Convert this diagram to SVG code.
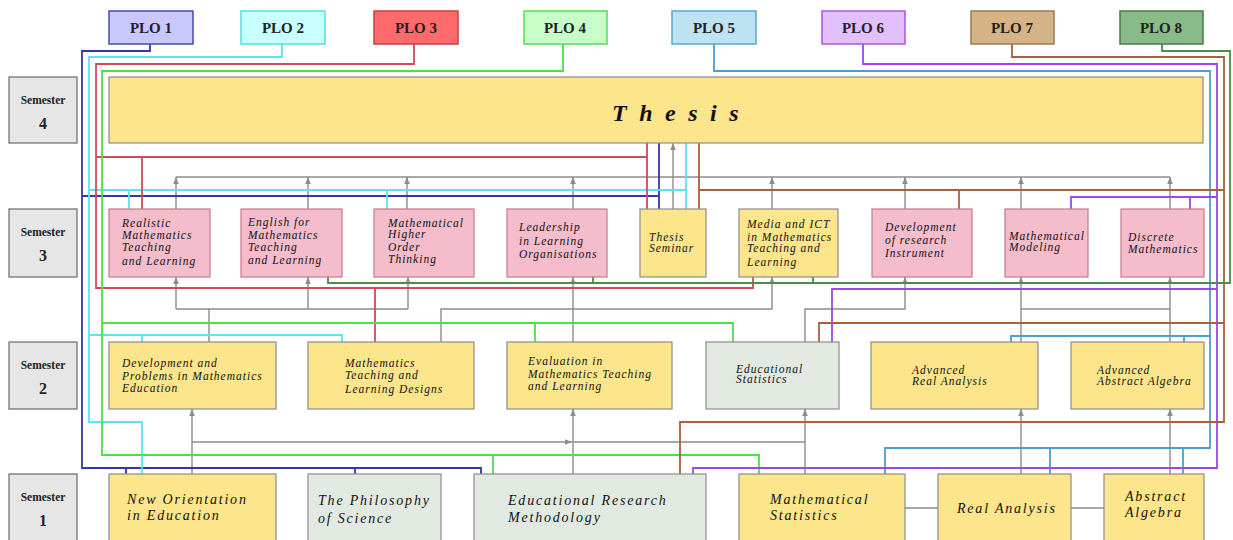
<svg xmlns="http://www.w3.org/2000/svg" width="1233" height="540" viewBox="0 0 1233 540">
<defs>
<style>
.sem{fill:#e6e6e6;stroke:#6a6a6a;stroke-width:1.2}
.semt{font-family:"Liberation Serif","Times New Roman",serif;font-weight:bold;font-size:11.5px;fill:#222;text-anchor:middle}
.semn{font-family:"Liberation Serif","Times New Roman",serif;font-weight:bold;font-size:16px;fill:#222;text-anchor:middle}
.plot{font-family:"Liberation Serif","Times New Roman",serif;font-weight:bold;font-size:15px;fill:#222;text-anchor:middle}
.y{fill:#fce58a;stroke:#8c8c8c;stroke-width:1.2}
.p{fill:#f5bccb;stroke:#c47a8c;stroke-width:1.2}
.g{fill:#e1e9e1;stroke:#8c8c8c;stroke-width:1.2}
.t{font-family:"Liberation Serif","Times New Roman",serif;font-style:italic;font-size:11.5px;letter-spacing:1px;fill:#111}
.t1{font-family:"Liberation Serif","Times New Roman",serif;font-style:italic;font-size:14px;letter-spacing:1.8px;fill:#111}
.gr{fill:none;stroke:#8c8c8c;stroke-width:1.4}
.ga{fill:none;stroke:#8c8c8c;stroke-width:1.4;marker-end:url(#arr)}
.c1{fill:none;stroke:#3636a6;stroke-width:1.8}
.c2{fill:none;stroke:#5ce6ec;stroke-width:1.8}
.c3{fill:none;stroke:#d04a5a;stroke-width:1.8}
.c4{fill:none;stroke:#4ddd4d;stroke-width:1.8}
.c5{fill:none;stroke:#4a9fd0;stroke-width:1.8}
.c6{fill:none;stroke:#9a48e8;stroke-width:1.8}
.c7{fill:none;stroke:#a8603f;stroke-width:1.8}
.c8{fill:none;stroke:#4b8b4b;stroke-width:1.8}
</style>
<marker id="arr" viewBox="0 0 10 10" refX="10" refY="5" markerUnits="userSpaceOnUse" markerWidth="7" markerHeight="7" orient="auto">
<path d="M0,1 L10,5 L0,9 z" fill="#8c8c8c"/>
</marker>
</defs>
<rect width="1233" height="540" fill="#ffffff"/>

<g id="connectors">
<path class="gr" d="M176 177 H1170"/>
<path class="ga" d="M176 209 V177"/>
<path class="ga" d="M308 209 V177"/>
<path class="ga" d="M407 209 V177"/>
<path class="ga" d="M573 209 V177"/>
<path class="ga" d="M772 209 V177"/>
<path class="ga" d="M905 209 V177"/>
<path class="ga" d="M1021 209 V177"/>
<path class="ga" d="M1170 209 V177"/>
<path class="ga" d="M673 209 V143"/>
<path class="gr" d="M209 342 V309 M176 309 H408"/>
<path class="ga" d="M176 309 V277"/>
<path class="ga" d="M308 309 V277"/>
<path class="ga" d="M408 309 V277"/>
<path class="ga" d="M441 342 V309 H772 V277"/>
<path class="ga" d="M573 342 V277"/>
<path class="ga" d="M805 342 V309 H905 V277"/>
<path class="gr" d="M1021 309 H1170"/>
<path class="ga" d="M1021 342 V277"/>
<path class="ga" d="M1170 342 V277"/>
<path class="ga" d="M192 474 V409"/>
<path class="ga" d="M192 442 H572"/>
<path class="gr" d="M573 442 H805"/>
<path class="ga" d="M573 474 V409"/>
<path class="ga" d="M805 474 V409"/>
<path class="ga" d="M1021 474 V409"/>
<path class="ga" d="M1170 474 V409"/>
<path class="gr" d="M905 508 H938 M1071 508 H1104"/>

<path class="c1" d="M150 44 V51 H82 V468 H481 V474 M126 468 V474 M355 468 V474 M82 196 H659 M659 143 V209"/>
<path class="c2" d="M282 44 V57 H89 V422 H142 V474 M89 190 H686 M686 143 V209 M129 190 V209 M387 190 V209 M89 335 H342 V342 M142 335 V342"/>
<path class="c3" d="M414 44 V64 H96 V288 H753 V277 M96 157 H647 M647 143 V209 M142 157 V209 M375 288 V342"/>
<path class="c4" d="M563 44 V71 H102 V455 H759 V474 M493 455 V474 M102 323 H733 V342 M535 323 V342"/>
<path class="c5" d="M714 44 V71 H1210 V448 H885 V474 M1050 448 V474 M1183 448 V474 M1210 336 H1011 V342 M1184 336 V342"/>
<path class="c6" d="M863 44 V64 H1217 V468 H693 V474 M1217 197 H1071 V209 M1190 197 V209 M1217 289 H832 V342"/>
<path class="c7" d="M1012 44 V57 H1224 V422 H680 V474 M1224 190 H699 M699 143 V209 M959 190 V209 M1224 323 H819 V342"/>
<path class="c8" d="M1162 44 V51 H1230 V283 H328 V277 M593 283 V277 M813 283 V277"/>
</g>

<g id="plo1"><rect x="109" y="11" width="84" height="33" fill="#c8c8ff" stroke="#4848b0" stroke-width="1.5"/><text class="plot" x="151" y="33">PLO 1</text></g>
<g id="plo2"><rect x="241" y="11" width="84" height="33" fill="#c8ffff" stroke="#50e0e0" stroke-width="1.5"/><text class="plot" x="283" y="33">PLO 2</text></g>
<g id="plo3"><rect x="374" y="11" width="84" height="33" fill="#ff6b6b" stroke="#c84040" stroke-width="1.5"/><text class="plot" x="416" y="33">PLO 3</text></g>
<g id="plo4"><rect x="524" y="11" width="83" height="33" fill="#c8ffc8" stroke="#55dd55" stroke-width="1.5"/><text class="plot" x="565" y="33">PLO 4</text></g>
<g id="plo5"><rect x="672" y="11" width="84" height="33" fill="#bde3f3" stroke="#55aacc" stroke-width="1.5"/><text class="plot" x="714" y="33">PLO 5</text></g>
<g id="plo6"><rect x="822" y="11" width="83" height="33" fill="#e2c0ff" stroke="#aa55dd" stroke-width="1.5"/><text class="plot" x="863" y="33">PLO 6</text></g>
<g id="plo7"><rect x="971" y="11" width="83" height="33" fill="#d4b486" stroke="#9a7a55" stroke-width="1.5"/><text class="plot" x="1012" y="33">PLO 7</text></g>
<g id="plo8"><rect x="1120" y="11" width="83" height="33" fill="#88bb88" stroke="#4a7a4a" stroke-width="1.5"/><text class="plot" x="1161" y="33">PLO 8</text></g>

<g id="sem4"><rect class="sem" x="9" y="77" width="68" height="66"/><text class="semt" x="43" y="104">Semester</text><text class="semn" x="43" y="129">4</text></g>
<g id="sem3"><rect class="sem" x="9" y="209" width="68" height="68"/><text class="semt" x="43" y="236">Semester</text><text class="semn" x="43" y="261">3</text></g>
<g id="sem2"><rect class="sem" x="9" y="342" width="68" height="67"/><text class="semt" x="43" y="369">Semester</text><text class="semn" x="43" y="394">2</text></g>
<g id="sem1"><rect class="sem" x="9" y="474" width="68" height="70"/><text class="semt" x="43" y="501">Semester</text><text class="semn" x="43" y="526">1</text></g>

<g id="thesis"><rect class="y" x="109" y="77" width="1094" height="66"/><text x="612" y="121" font-family="Liberation Serif, Times New Roman, serif" font-style="italic" font-weight="bold" font-size="24" letter-spacing="12.5" fill="#111">Thesis</text></g>

<g id="realistic"><rect class="p" x="109" y="209" width="101" height="68"/><text class="t"><tspan x="122" y="227">Realistic</tspan><tspan x="122" y="239">Mathematics</tspan><tspan x="122" y="251">Teaching</tspan><tspan x="122" y="265">and Learning</tspan></text></g>
<g id="english"><rect class="p" x="241" y="209" width="101" height="68"/><text class="t"><tspan x="248" y="226">English for</tspan><tspan x="248" y="239">Mathematics</tspan><tspan x="248" y="251">Teaching</tspan><tspan x="248" y="264">and Learning</tspan></text></g>
<g id="mhot"><rect class="p" x="374" y="209" width="100" height="68"/><text class="t"><tspan x="388" y="227">Mathematical</tspan><tspan x="388" y="238">Higher</tspan><tspan x="388" y="251">Order</tspan><tspan x="388" y="263">Thinking</tspan></text></g>
<g id="leadership"><rect class="p" x="507" y="209" width="100" height="68"/><text class="t"><tspan x="519" y="231">Leadership</tspan><tspan x="519" y="245">in Learning</tspan><tspan x="519" y="258">Organisations</tspan></text></g>
<g id="thesis-seminar"><rect class="y" x="640" y="209" width="66" height="68"/><text class="t"><tspan x="649" y="241">Thesis</tspan><tspan x="649" y="252">Seminar</tspan></text></g>
<g id="media-ict"><rect class="y" x="739" y="209" width="99" height="68"/><text class="t"><tspan x="747" y="228">Media and ICT</tspan><tspan x="747" y="241">in Mathematics</tspan><tspan x="747" y="252">Teaching and</tspan><tspan x="747" y="266">Learning</tspan></text></g>
<g id="dev-research"><rect class="p" x="872" y="209" width="100" height="68"/><text class="t"><tspan x="885" y="231">Development</tspan><tspan x="885" y="244">of research</tspan><tspan x="885" y="257">Instrument</tspan></text></g>
<g id="math-modeling"><rect class="p" x="1005" y="209" width="83" height="68"/><text class="t"><tspan x="1009" y="240">Mathematical</tspan><tspan x="1009" y="251">Modeling</tspan></text></g>
<g id="discrete"><rect class="p" x="1121" y="209" width="83" height="68"/><text class="t"><tspan x="1128" y="241">Discrete</tspan><tspan x="1128" y="253">Mathematics</tspan></text></g>

<g id="dev-problems"><rect class="y" x="109" y="342" width="167" height="67"/><text class="t"><tspan x="122" y="367">Development and</tspan><tspan x="122" y="380">Problems in Mathematics</tspan><tspan x="122" y="392">Education</tspan></text></g>
<g id="mtld"><rect class="y" x="308" y="342" width="166" height="67"/><text class="t"><tspan x="345" y="367">Mathematics</tspan><tspan x="345" y="379">Teaching and</tspan><tspan x="345" y="393">Learning Designs</tspan></text></g>
<g id="evaluation"><rect class="y" x="507" y="342" width="165" height="67"/><text class="t"><tspan x="528" y="365">Evaluation in</tspan><tspan x="528" y="378">Mathematics Teaching</tspan><tspan x="528" y="390">and Learning</tspan></text></g>
<g id="ed-statistics"><rect class="g" x="706" y="342" width="133" height="67"/><text class="t"><tspan x="736" y="373">Educational</tspan><tspan x="736" y="383">Statistics</tspan></text></g>
<g id="adv-real"><rect class="y" x="871" y="342" width="167" height="67"/><text class="t"><tspan x="912" y="374">Advanced</tspan><tspan x="912" y="385">Real Analysis</tspan></text></g>
<g id="adv-algebra"><rect class="y" x="1071" y="342" width="133" height="67"/><text class="t"><tspan x="1097" y="374">Advanced</tspan><tspan x="1097" y="385">Abstract Algebra</tspan></text></g>

<g id="new-orientation"><rect class="y" x="109" y="474" width="167" height="70"/><text class="t1"><tspan x="127" y="504">New Orientation</tspan><tspan x="127" y="520">in Education</tspan></text></g>
<g id="philosophy"><rect class="g" x="308" y="474" width="133" height="70"/><text class="t1"><tspan x="318" y="505">The Philosophy</tspan><tspan x="318" y="523">of Science</tspan></text></g>
<g id="ed-research"><rect class="g" x="474" y="474" width="232" height="70"/><text class="t1"><tspan x="508" y="505">Educational Research</tspan><tspan x="508" y="522">Methodology</tspan></text></g>
<g id="math-statistics"><rect class="y" x="739" y="474" width="166" height="70"/><text class="t1"><tspan x="770" y="504">Mathematical</tspan><tspan x="770" y="520">Statistics</tspan></text></g>
<g id="real-analysis"><rect class="y" x="938" y="474" width="133" height="70"/><text class="t1" x="957" y="513">Real Analysis</text></g>
<g id="abstract-algebra"><rect class="y" x="1104" y="474" width="100" height="70"/><text class="t1"><tspan x="1125" y="501">Abstract</tspan><tspan x="1125" y="517">Algebra</tspan></text></g>
</svg>
